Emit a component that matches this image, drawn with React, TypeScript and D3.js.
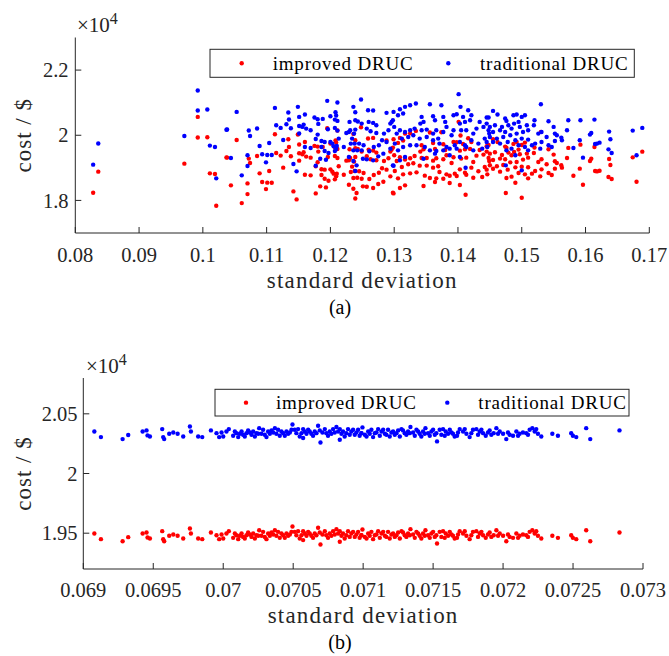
import React from "react";
import * as d3 from "d3";

// [standard deviation, traditional DRUC cost, improved DRUC cost]
const topPoints: [number, number, number][] = [
  [0.0836, 19745, 18883], [0.0828, 19098, 18237], [0.0971, 19978, 19129], [0.0992, 21375, 20563], [0.0992, 20760, 19929],
  [0.1007, 20791, 19938], [0.1053, 20717, 19855], [0.1113, 20840, 20031], [0.1149, 20871, 20021], [0.1134, 20698, 19877],
  [0.1135, 20483, 19640], [0.1151, 20563, 19714], [0.1115, 20308, 19455], [0.1122, 20225, 19375], [0.1131, 20338, 19517],
  [0.1138, 20215, 19354], [0.1151, 20286, 19446], [0.1038, 20175, 19314], [0.1037, 20170, 19320], [0.1072, 20145, 19283],
  [0.1085, 20206, 19363], [0.1074, 19978, 19148], [0.1126, 19855, 19006], [0.1151, 20052, 19221], [0.1104, 19763, 18901],
  [0.1089, 19671, 18831], [0.1011, 19683, 18831], [0.1019, 19640, 18809], [0.1070, 19385, 18523], [0.1093, 19415, 18563],
  [0.1101, 19394, 18545], [0.1108, 19394, 18540], [0.1044, 19301, 18462], [0.1099, 19169, 18348], [0.1070, 19055, 18194],
  [0.1142, 19117, 18277], [0.1147, 18892, 18031], [0.1021, 18677, 17837], [0.1061, 18769, 17917],
  [0.1195, 21056, 20216], [0.1211, 21005, 20145], [0.1248, 21097, 20247], [0.1236, 20871, 20041], [0.1239, 20707, 19847],
  [0.1259, 20769, 19899], [0.1267, 20758, 19918], [0.1288, 20687, 19837], [0.1299, 20717, 19877], [0.1160, 20635, 19795],
  [0.1175, 20543, 19673], [0.1180, 20492, 19652], [0.1188, 20502, 19642], [0.1200, 20584, 19744], [0.1208, 20707, 19837],
  [0.1209, 20604, 19774], [0.1211, 20440, 19580], [0.1207, 20481, 19631], [0.1230, 20409, 19569], [0.1239, 20461, 19601],
  [0.1243, 20420, 19580], [0.1249, 20358, 19498], [0.1260, 20409, 19559], [0.1267, 20379, 19529], [0.1272, 20307, 19467],
  [0.1294, 20358, 19498], [0.1298, 20461, 19621], [0.1158, 20327, 19477], [0.1156, 20256, 19416], [0.1162, 20204, 19344],
  [0.1169, 20153, 19313], [0.1181, 20348, 19498], [0.1196, 20184, 19334], [0.1207, 20225, 19365], [0.1211, 20143, 19303],
  [0.1225, 20071, 19221], [0.1229, 20102, 19232], [0.1231, 20153, 19303], [0.1239, 20174, 19334], [0.1237, 20050, 19190],
  [0.1257, 20204, 19354], [0.1263, 20122, 19262], [0.1272, 20071, 19231], [0.1284, 20050, 19210], [0.1291, 20153, 19293],
  [0.1180, 20020, 19170], [0.1177, 19886, 19046], [0.1186, 19825, 18955], [0.1191, 19794, 18944], [0.1200, 19794, 18954],
  [0.1203, 19743, 18883], [0.1205, 19661, 18821], [0.1210, 19671, 18821], [0.1209, 19579, 18739], [0.1207, 19517, 18647],
  [0.1213, 19897, 19047], [0.1234, 19897, 19037], [0.1238, 19743, 18903], [0.1232, 19743, 18873], [0.1221, 19640, 18790],
  [0.1245, 19743, 18893], [0.1252, 19691, 18841], [0.1268, 19640, 18780], [0.1276, 19691, 18851], [0.1281, 19845, 18985],
  [0.1288, 19794, 18944], [0.1294, 19589, 18739], [0.1160, 19640, 18790], [0.1169, 19609, 18769], [0.1186, 19640, 18780],
  [0.1191, 19517, 18667], [0.1197, 19455, 18605], [0.1236, 19537, 18687], [0.1242, 19537, 18697], [0.1249, 19537, 18667],
  [0.1261, 19507, 18657], [0.1251, 19281, 18431], [0.1257, 19260, 18420], [0.1275, 19353, 18503], [0.1283, 19435, 18575],
  [0.1267, 19230, 18380], [0.1236, 19209, 18359], [0.1241, 19076, 18226], [0.1229, 19332, 18482], [0.1193, 19250, 18400],
  [0.1184, 19281, 18431], [0.1177, 19065, 18215], [0.1239, 18901, 18061], [0.1299, 19065, 18215],
  [0.1401, 21261, 20411], [0.1374, 20922, 20092], [0.1356, 20953, 20083], [0.1334, 20974, 20134], [0.1325, 20922, 20062],
  [0.1317, 20871, 20051], [0.1309, 20799, 19919], [0.1306, 20615, 19765], [0.1314, 20666, 19836], [0.1343, 20563, 19693],
  [0.1346, 20409, 19569], [0.1341, 20358, 19498], [0.1361, 20584, 19764], [0.1364, 20461, 19581], [0.1377, 20563, 19723],
  [0.1380, 20409, 19549], [0.1393, 20615, 19795], [0.1398, 20645, 19785], [0.1404, 20871, 19991], [0.1408, 20563, 19733],
  [0.1416, 20769, 19909], [0.1421, 20615, 19795], [0.1419, 20461, 19581], [0.1411, 20409, 19569], [0.1403, 20358, 19528],
  [0.1434, 20409, 19549], [0.1445, 20543, 19663], [0.1440, 20256, 19406], [0.1429, 20204, 19374], [0.1424, 20050, 19180],
  [0.1413, 20153, 19313], [0.1405, 20153, 19283], [0.1393, 20153, 19323], [0.1390, 19999, 19149], [0.1382, 20256, 19386],
  [0.1377, 20102, 19262], [0.1366, 20153, 19293], [0.1361, 20050, 19220], [0.1351, 20174, 19304], [0.1343, 20153, 19303],
  [0.1332, 20204, 19364], [0.1325, 20153, 19293], [0.1317, 20102, 19252], [0.1309, 20153, 19323], [0.1300, 20256, 19386],
  [0.1296, 20409, 19559], [0.1304, 20050, 19210], [0.1312, 19897, 19027], [0.1322, 19948, 19108], [0.1330, 19999, 19139],
  [0.1340, 19897, 19067], [0.1351, 19948, 19068], [0.1361, 19845, 19005], [0.1369, 19897, 19047], [0.1371, 19743, 18873],
  [0.1382, 19640, 18800], [0.1387, 19589, 18759], [0.1395, 19691, 18821], [0.1403, 19794, 18954], [0.1411, 19691, 18851],
  [0.1421, 19845, 19005], [0.1432, 19743, 18893], [0.1442, 19897, 19027], [0.1449, 20050, 19210], [0.1446, 19640, 18800],
  [0.1438, 19589, 18719], [0.1424, 19537, 18697], [0.1413, 19640, 18790], [0.1398, 19589, 18749], [0.1377, 19537, 18667],
  [0.1366, 19517, 18677], [0.1356, 19537, 18687], [0.1348, 19640, 18760], [0.1335, 19691, 18861], [0.1325, 19691, 18831],
  [0.1314, 19640, 18800], [0.1306, 19537, 18677], [0.1301, 19743, 18903], [0.1309, 19230, 18380], [0.1317, 19332, 18462],
  [0.1298, 19076, 18236], [0.1346, 19281, 18441], [0.1364, 19435, 18565], [0.1387, 19384, 18534], [0.1412, 19004, 18174],
  [0.1403, 19332, 18472],
  [0.1530, 20953, 20103], [0.1448, 20543, 19703], [0.1455, 20748, 19878], [0.1462, 20635, 19795], [0.1474, 20512, 19652],
  [0.1476, 20440, 19620], [0.1487, 20615, 19735], [0.1492, 20635, 19795], [0.1500, 20563, 19703], [0.1505, 20615, 19775],
  [0.1495, 20409, 19559], [0.1488, 20358, 19488], [0.1479, 20307, 19467], [0.1469, 20256, 19396], [0.1458, 20307, 19477],
  [0.1450, 20256, 19436], [0.1445, 20358, 19498], [0.1448, 20153, 19303], [0.1455, 20102, 19242], [0.1466, 20153, 19283],
  [0.1474, 20102, 19262], [0.1484, 20204, 19384], [0.1497, 20256, 19416], [0.1508, 20307, 19437], [0.1520, 20461, 19621],
  [0.1519, 20307, 19457], [0.1510, 20153, 19313], [0.1502, 20102, 19252], [0.1492, 20050, 19180], [0.1482, 19999, 19169],
  [0.1471, 19948, 19088], [0.1461, 19897, 19047], [0.1450, 19948, 19078], [0.1445, 19794, 18944], [0.1455, 19794, 18974],
  [0.1466, 19743, 18883], [0.1478, 19794, 18944], [0.1490, 19845, 19015], [0.1500, 19897, 19037], [0.1510, 19866, 19016],
  [0.1521, 19743, 18903], [0.1526, 20050, 19180], [0.1531, 20102, 19262], [0.1542, 20430, 19570], [0.1550, 20256, 19406],
  [0.1555, 19999, 19149], [0.1562, 19928, 19078], [0.1552, 19825, 18975], [0.1539, 19948, 19108], [0.1531, 19794, 18954],
  [0.1542, 19691, 18841], [0.1529, 19589, 18739], [0.1516, 19691, 18821], [0.1505, 19640, 18800], [0.1495, 19691, 18841],
  [0.1484, 19589, 18729], [0.1476, 19537, 18687], [0.1490, 19384, 18544], [0.1500, 18922, 18082], [0.1475, 19076, 18226],
  [0.1573, 20461, 19611], [0.1571, 20153, 19303], [0.1581, 19609, 18759], [0.1591, 19845, 18975], [0.1552, 20050, 19200],
  [0.1563, 19845, 19005], [0.1547, 19640, 18780], [0.1510, 19537, 18677],
  [0.1592, 20461, 19712], [0.1614, 20481, 19640], [0.1609, 20071, 19281], [0.1607, 20020, 19209], [0.1637, 20112, 19271],
  [0.1639, 19876, 19086], [0.1615, 19732, 18901], [0.1618, 19743, 18891], [0.1622, 19773, 18911], [0.1636, 19568, 18717],
  [0.1641, 19455, 18655], [0.1596, 19312, 18481], [0.1674, 20143, 19322], [0.1689, 20225, 19496], [0.1680, 19384, 18573],
];

// [standard deviation, traditional DRUC cost, improved DRUC cost]
const bottomPoints: [number, number, number][] = [
  [0.069079, 20352, 19497], [0.069126, 20305, 19450], [0.069281, 20288, 19433], [0.069321, 20322, 19467], [0.069424, 20352, 19497],
  [0.069452, 20361, 19506], [0.069459, 20319, 19464], [0.069476, 20310, 19455], [0.069564, 20372, 19517], [0.069571, 20305, 19450],
  [0.069578, 20288, 19433], [0.069614, 20333, 19478], [0.069643, 20344, 19489], [0.069674, 20333, 19478], [0.069714, 20310, 19455],
  [0.069762, 20394, 19539], [0.069769, 20352, 19497], [0.069821, 20310, 19455], [0.069850, 20305, 19450], [0.069912, 20361, 19506],
  [0.069952, 20338, 19483], [0.069971, 20305, 19450], [0.069988, 20344, 19489], [0.070000, 20310, 19455], [0.070023, 20352, 19497],
  [0.070040, 20372, 19517], [0.070071, 20316, 19461], [0.070095, 20338, 19483], [0.070107, 20305, 19450], [0.070131, 20352, 19497],
  [0.070142, 20324, 19469], [0.070166, 20338, 19483], [0.070190, 20344, 19489], [0.070214, 20352, 19497], [0.070238, 20338, 19483],
  [0.070257, 20380, 19525], [0.070273, 20333, 19478], [0.070297, 20324, 19469], [0.070321, 20352, 19497], [0.070345, 20361, 19506],
  [0.070369, 20380, 19525], [0.070380, 20333, 19478], [0.070404, 20316, 19461], [0.070428, 20338, 19483], [0.070452, 20352, 19497],
  [0.070476, 20344, 19489], [0.070495, 20411, 19556], [0.070511, 20366, 19511], [0.070535, 20372, 19517], [0.070559, 20338, 19483],
  [0.070583, 20352, 19497], [0.070607, 20366, 19511], [0.070630, 20333, 19478], [0.070654, 20352, 19497], [0.070678, 20400, 19545],
  [0.070695, 20260, 19405], [0.070709, 20344, 19489], [0.070737, 20338, 19483], [0.070761, 20352, 19497], [0.070785, 20372, 19517],
  [0.070809, 20389, 19534], [0.070821, 20352, 19497], [0.070845, 20333, 19478], [0.070868, 20310, 19455], [0.070892, 20372, 19517],
  [0.070916, 20352, 19497], [0.070940, 20324, 19469], [0.070964, 20366, 19511], [0.070987, 20338, 19483],
  [0.070083, 20352, 19497], [0.070119, 20333, 19478], [0.070154, 20310, 19455], [0.070178, 20361, 19506], [0.070202, 20324, 19469],
  [0.070226, 20310, 19455], [0.070250, 20333, 19478], [0.070285, 20366, 19511], [0.070309, 20305, 19450], [0.070333, 20333, 19478],
  [0.070357, 20344, 19489], [0.070392, 20366, 19511], [0.070416, 20352, 19497], [0.070440, 20316, 19461], [0.070464, 20333, 19478],
  [0.070488, 20366, 19511], [0.070523, 20338, 19483], [0.070547, 20310, 19455], [0.070571, 20372, 19517], [0.070595, 20333, 19478],
  [0.070618, 20352, 19497], [0.070642, 20316, 19461], [0.070666, 20338, 19483], [0.070690, 20361, 19506], [0.070726, 20372, 19517],
  [0.070749, 20316, 19461], [0.070773, 20333, 19478], [0.070797, 20344, 19489], [0.070833, 20372, 19517], [0.070856, 20352, 19497],
  [0.070880, 20338, 19483], [0.070904, 20324, 19469], [0.070928, 20366, 19511], [0.070952, 20344, 19489], [0.070975, 20316, 19461],
  [0.070833, 20283, 19428], [0.070571, 20297, 19442],
  [0.070995, 20386, 19531], [0.071012, 20324, 19469], [0.071036, 20352, 19497], [0.071059, 20366, 19511], [0.071083, 20338, 19483],
  [0.071107, 20372, 19517], [0.071131, 20352, 19497], [0.071155, 20333, 19478], [0.071178, 20366, 19511], [0.071202, 20344, 19489],
  [0.071226, 20324, 19469], [0.071250, 20361, 19506], [0.071274, 20372, 19517], [0.071297, 20338, 19483], [0.071321, 20352, 19497],
  [0.071338, 20389, 19534], [0.071357, 20344, 19489], [0.071381, 20366, 19511], [0.071404, 20333, 19478], [0.071428, 20352, 19497],
  [0.071445, 20380, 19525], [0.071464, 20338, 19483], [0.071488, 20352, 19497], [0.071512, 20324, 19469], [0.071528, 20269, 19414],
  [0.071547, 20366, 19511], [0.071571, 20372, 19517], [0.071590, 20352, 19497], [0.071607, 20333, 19478], [0.071631, 20344, 19489],
  [0.071654, 20310, 19455], [0.071671, 20316, 19461], [0.071690, 20372, 19517], [0.071714, 20352, 19497], [0.071738, 20333, 19478],
  [0.071761, 20305, 19450], [0.071785, 20366, 19511], [0.071809, 20372, 19517], [0.071833, 20352, 19497], [0.071857, 20338, 19483],
  [0.071876, 20316, 19461], [0.071892, 20344, 19489], [0.071916, 20324, 19469], [0.071933, 20338, 19483], [0.071952, 20380, 19525],
  [0.071976, 20352, 19497], [0.072000, 20333, 19478], [0.072023, 20288, 19433], [0.072047, 20324, 19469], [0.072071, 20316, 19461],
  [0.072095, 20352, 19497], [0.072118, 20333, 19478], [0.072142, 20344, 19489], [0.072166, 20338, 19483], [0.072190, 20366, 19511],
  [0.072209, 20380, 19525], [0.072226, 20352, 19497], [0.072249, 20333, 19478], [0.072273, 20310, 19455], [0.072352, 20333, 19478],
  [0.072392, 20316, 19461], [0.072487, 20338, 19483], [0.072499, 20316, 19461], [0.072523, 20305, 19450], [0.072594, 20380, 19525],
  [0.072623, 20288, 19433], [0.072832, 20361, 19506],
  [0.070988, 20338, 19483], [0.071024, 20310, 19455], [0.071047, 20333, 19478], [0.071071, 20305, 19450], [0.071095, 20344, 19489],
  [0.071119, 20316, 19461], [0.071143, 20366, 19511], [0.071166, 20324, 19469], [0.071190, 20310, 19455], [0.071214, 20352, 19497],
  [0.071238, 20338, 19483], [0.071262, 20310, 19455], [0.071285, 20361, 19506], [0.071309, 20324, 19469], [0.071333, 20338, 19483],
  [0.071369, 20316, 19461], [0.071393, 20352, 19497], [0.071416, 20310, 19455], [0.071440, 20333, 19478], [0.071476, 20316, 19461],
  [0.071500, 20366, 19511], [0.071523, 20338, 19483], [0.071559, 20324, 19469], [0.071583, 20316, 19461], [0.071619, 20366, 19511],
  [0.071642, 20333, 19478], [0.071678, 20344, 19489], [0.071726, 20372, 19517], [0.071773, 20338, 19483], [0.071821, 20324, 19469],
  [0.071845, 20366, 19511], [0.071904, 20361, 19506], [0.071964, 20333, 19478], [0.072035, 20344, 19489], [0.072107, 20316, 19461],
  [0.072178, 20324, 19469], [0.072237, 20372, 19517],
];

const seriesNames = ["improved DRUC", "traditional DRUC"];
const seriesColors = ["#ff0000", "#0000ff"];

const topXTicks = [0.08, 0.09, 0.1, 0.11, 0.12, 0.13, 0.14, 0.15, 0.16, 0.17];
const topXLabels = ["0.08", "0.09", "0.1", "0.11", "0.12", "0.13", "0.14", "0.15", "0.16", "0.17"];
const topYTicks = [18000, 20000, 22000];
const topYLabels = ["1.8", "2", "2.2"];

const botXTicks = [0.069, 0.0695, 0.07, 0.0705, 0.071, 0.0715, 0.072, 0.0725, 0.073];
const botXLabels = ["0.069", "0.0695", "0.07", "0.0705", "0.071", "0.0715", "0.072", "0.0725", "0.073"];
const botYTicks = [19500, 20000, 20500];
const botYLabels = ["1.95", "2", "2.05"];

const FONT = "Liberation Serif";
const AX = "#262626";

type PanelProps = {
  data: [number, number, number][];
  xDomain: [number, number];
  yDomain: [number, number];
  left: number; right: number; top: number; bottom: number;
  xTicks: number[]; xLabels: string[]; yTicks: number[]; yLabels: string[];
  legend: { x: number; y: number; w: number; h: number; dot1: number; text1: number; dot2: number; text2: number };
  expo: { x: number; y: number };
  xlabelY: number; ylabelX: number; tickLabelY: number; yTickX: number;
  caption: string; captionY: number;
};

const tf = (size: number, extra: React.CSSProperties = {}): React.CSSProperties => ({
  fontFamily: FONT,
  fontSize: size,
  ...extra,
});

function Panel(p: PanelProps) {
  const x = d3.scaleLinear().domain(p.xDomain).range([p.left, p.right]);
  const y = d3.scaleLinear().domain(p.yDomain).range([p.bottom, p.top]);
  const tl = 6;
  const cy = (p.top + p.bottom) / 2;
  const cx = (p.left + p.right) / 2;
  const ly = p.legend.y + p.legend.h / 2;
  return (
    <g>
      {p.data.map((d, i) => (
        <circle key={"r" + i} cx={x(d[0])} cy={y(d[2])} r={2.2} fill={seriesColors[0]} />
      ))}
      {p.data.map((d, i) => (
        <circle key={"b" + i} cx={x(d[0])} cy={y(d[1])} r={2.2} fill={seriesColors[1]} />
      ))}
      <line x1={p.left} x2={p.left} y1={p.top} y2={p.bottom} stroke={AX} strokeWidth={1} />
      <line x1={p.left} x2={p.right} y1={p.bottom} y2={p.bottom} stroke={AX} strokeWidth={1} />
      {p.xTicks.map((t, i) => (
        <g key={"xt" + i}>
          <line x1={x(t)} x2={x(t)} y1={p.bottom} y2={p.bottom - tl} stroke={AX} strokeWidth={1} />
          <text x={x(t)} y={p.tickLabelY} textAnchor="middle" style={tf(20.5)} fill={AX}>{p.xLabels[i]}</text>
        </g>
      ))}
      {p.yTicks.map((t, i) => (
        <g key={"yt" + i}>
          <line x1={p.left} x2={p.left + tl} y1={y(t)} y2={y(t)} stroke={AX} strokeWidth={1} />
          <text x={p.yTickX} y={y(t)} dy="0.35em" textAnchor="end" style={tf(20.5)} fill={AX}>{p.yLabels[i]}</text>
        </g>
      ))}
      <text x={p.expo.x} y={p.expo.y} style={tf(21)} fill={AX}>
        ×10<tspan style={{ fontSize: 16 }} dy={-8}>4</tspan>
      </text>
      <text x={cx} y={p.xlabelY} textAnchor="middle" style={tf(23, { letterSpacing: 1.2 })} fill={AX}>standard deviation</text>
      <text transform={`translate(${p.ylabelX},${cy}) rotate(-90)`} textAnchor="middle" style={tf(23, { letterSpacing: 1 })} fill={AX}>cost / $</text>
      <text x={340} y={p.captionY} textAnchor="middle" style={tf(20)} fill="#000">{p.caption}</text>
      <rect x={p.legend.x} y={p.legend.y} width={p.legend.w} height={p.legend.h} fill="#fff" stroke={AX} strokeWidth={1} />
      <circle cx={p.legend.dot1} cy={ly} r={2.2} fill={seriesColors[0]} />
      <text x={p.legend.text1} y={ly} dy="0.33em" style={tf(19, { letterSpacing: 0.8 })} fill="#000">{seriesNames[0]}</text>
      <circle cx={p.legend.dot2} cy={ly} r={2.2} fill={seriesColors[1]} />
      <text x={p.legend.text2} y={ly} dy="0.33em" style={tf(19, { letterSpacing: 0.8 })} fill="#000">{seriesNames[1]}</text>
    </g>
  );
}

export default function App() {
  return (
    <svg width={669} height={656} style={{ position: "absolute", left: 0, top: 0, background: "#fff" }}>
      <rect x={0} y={0} width={669} height={656} fill="#fff" />
      <Panel
        data={topPoints}
        xDomain={[0.08, 0.17]} yDomain={[17000, 23000]}
        left={75.3} right={649.3} top={37.5} bottom={233}
        xTicks={topXTicks} xLabels={topXLabels} yTicks={topYTicks} yLabels={topYLabels}
        legend={{ x: 210, y: 49.3, w: 424.3, h: 28, dot1: 241.7, text1: 272.7, dot2: 448.3, text2: 480 }}
        expo={{ x: 77, y: 32 }}
        xlabelY={288} ylabelX={31} tickLabelY={262} yTickX={68.5}
        caption="(a)" captionY={314}
      />
      <Panel
        data={bottomPoints}
        xDomain={[0.069, 0.073]} yDomain={[19200, 20800]}
        left={83.3} right={643} top={378} bottom={569}
        xTicks={botXTicks} xLabels={botXLabels} yTicks={botYTicks} yLabels={botYLabels}
        legend={{ x: 215, y: 389.3, w: 414, h: 26.7, dot1: 246, text1: 276, dot2: 447.3, text2: 478.3 }}
        expo={{ x: 86, y: 373 }}
        xlabelY={623} ylabelX={31} tickLabelY={597} yTickX={77.5}
        caption="(b)" captionY={649}
      />
    </svg>
  );
}
